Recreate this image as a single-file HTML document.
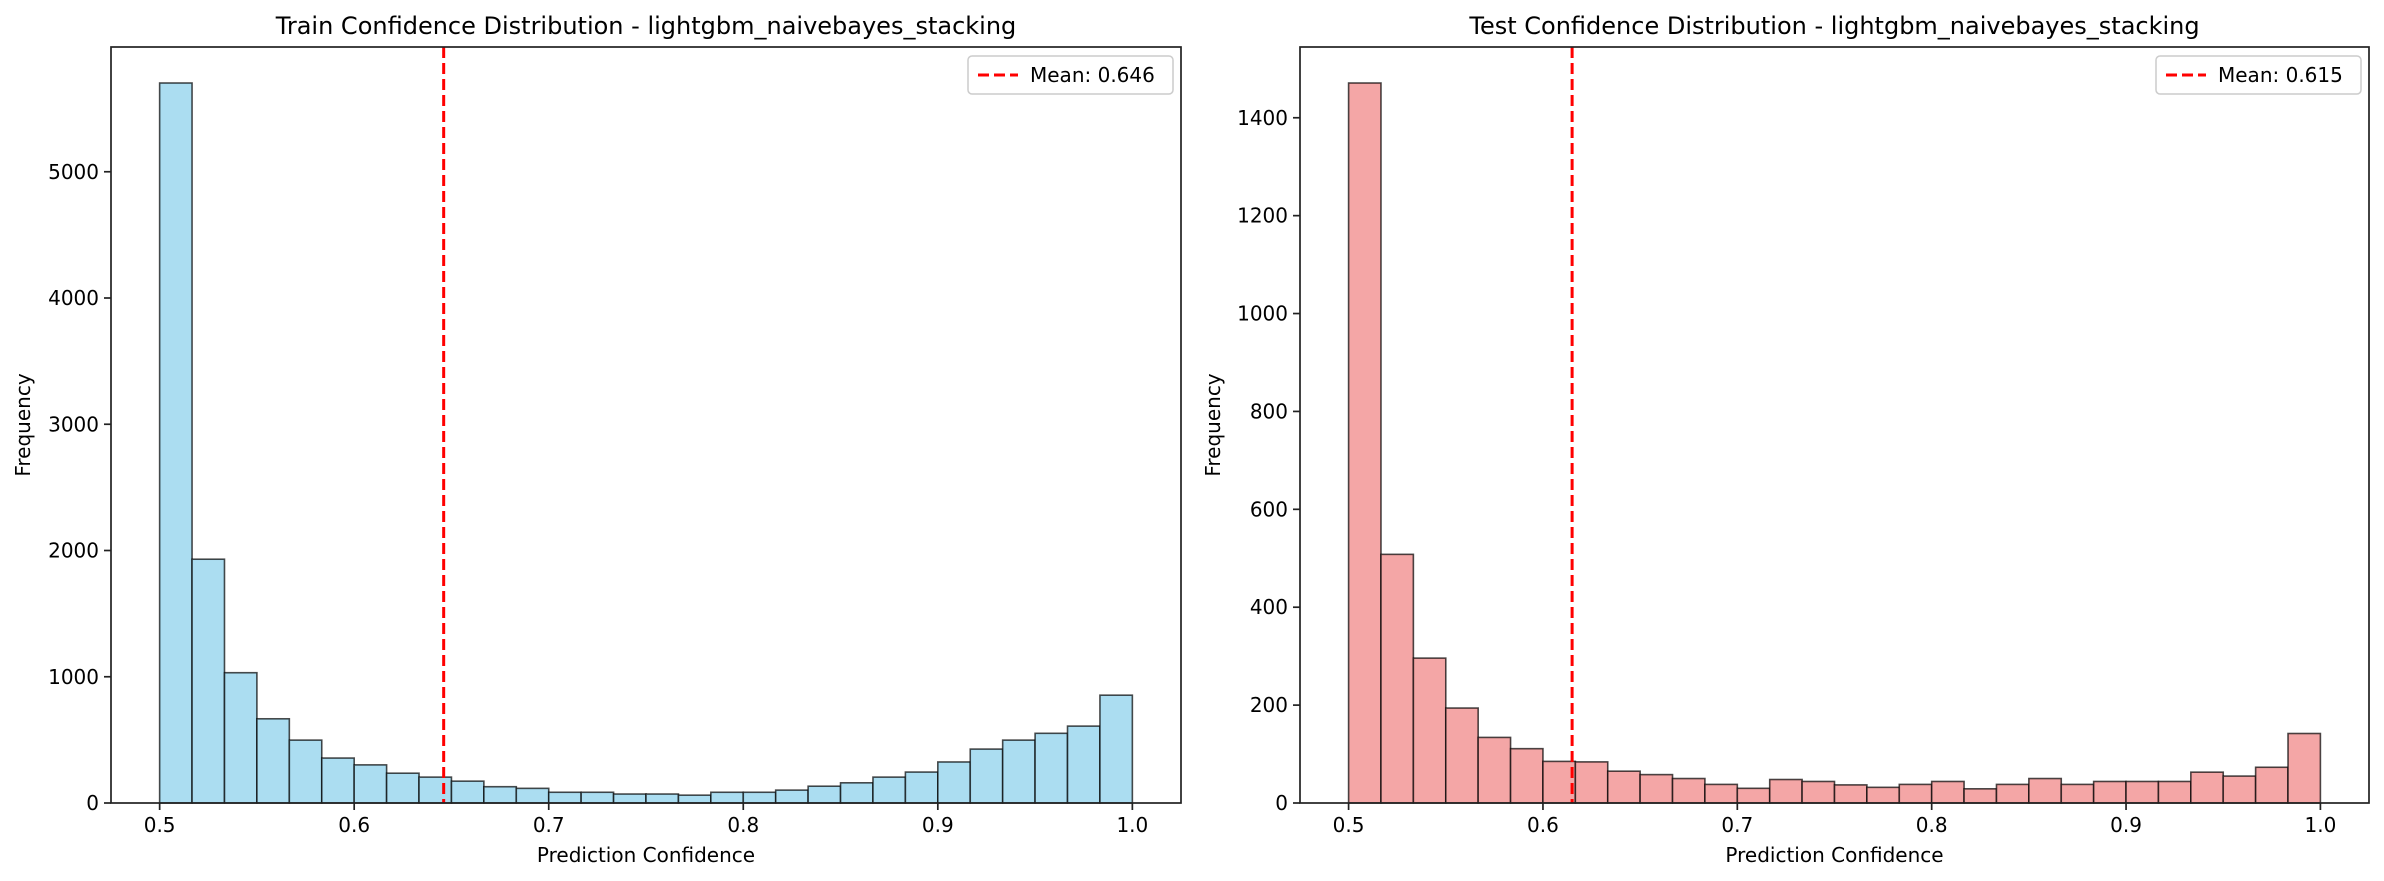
<!DOCTYPE html>
<html><head><meta charset="utf-8"><style>
html,body{margin:0;padding:0;background:#fff;}
svg{display:block;font-family:"DejaVu Sans","Liberation Sans",sans-serif;}
</style></head><body>
<svg id="fig" width="2384" height="881" viewBox="0 0 2384 881" xmlns="http://www.w3.org/2000/svg"></svg>
<script>
const trainCounts=[5703,1931,1032,667,498,356,302,236,205,173,129,116,85,85,71,71,62,85,85,102,133,160,205,245,325,427,498,552,609,854];
const testCounts=[1471,508,296,194,134,111,85,84,65,58,50,38,30,48,44,37,32,38,44,29,38,50,38,44,44,44,63,55,73,142];
const binStart=0.5, binEnd=1.0;
const trainMean=0.646, testMean=0.615;
const xTicks=[0.5,0.6,0.7,0.8,0.9,1.0];
const xTickLabels=["0.5","0.6","0.7","0.8","0.9","1.0"];
const trainYTicks=[0,1000,2000,3000,4000,5000];
const testYTicks=[0,200,400,600,800,1000,1200,1400];

const NS="http://www.w3.org/2000/svg";
const fig=document.getElementById('fig');
function el(tag,attrs,parent){const e=document.createElementNS(NS,tag);for(const k in attrs)e.setAttribute(k,attrs[k]);(parent||fig).appendChild(e);return e;}

function drawPanel(cfg){
  const g=el('g',{});
  
  
  const L=cfg.left,R=cfg.right,T=47,B=803;
  const xmin=0.475,xmax=1.025;
  const ymax=Math.max(...cfg.counts)*1.05;
  const xs=v=>L+(v-xmin)/(xmax-xmin)*(R-L);
  const ys=v=>B-v/ymax*(B-T);
  const n=cfg.counts.length, w=(binEnd-binStart)/n;
  cfg.counts.forEach((c,i)=>{
    const x0=xs(binStart+i*w),x1=xs(binStart+(i+1)*w);
    const r=el('rect',{x:x0,y:ys(c),width:x1-x0,height:B-ys(c),fill:cfg.fill,stroke:'rgba(0,0,0,0.7)','stroke-width':1.6},g);
    
    
  });
  const ml=el('line',{x1:xs(cfg.mean),x2:xs(cfg.mean),y1:T,y2:B,stroke:'#ff0000','stroke-width':3,'stroke-dasharray':'11,5'},g);
  
  
  const ax=el('rect',{x:L,y:T,width:R-L,height:B-T,fill:'none',stroke:'#222','stroke-width':1.7},g);
  
  
  xTicks.forEach((t,i)=>{
    el('line',{x1:xs(t),x2:xs(t),y1:B,y2:B+7,stroke:'#222','stroke-width':1.7},g);
    const tx=el('text',{x:xs(t),y:B+29,'font-size':20,'text-anchor':'middle',fill:'#000'},g);
    tx.textContent=xTickLabels[i];
    
    
  });
  cfg.yTicks.forEach(t=>{
    el('line',{x1:L-7,x2:L,y1:ys(t),y2:ys(t),stroke:'#222','stroke-width':1.7},g);
    const tx=el('text',{x:L-12,y:ys(t)+7,'font-size':20,'text-anchor':'end',fill:'#000'},g);
    tx.textContent=String(t);
    
    
  });
  const title=el('text',{x:(L+R)/2,y:34,'font-size':24,'text-anchor':'middle',fill:'#000'},g);
  title.textContent=cfg.title;
  
  
  const xl=el('text',{x:(L+R)/2,y:862,'font-size':20,'text-anchor':'middle',fill:'#000'},g);
  xl.textContent='Prediction Confidence';
  
  
  const yx=cfg.ylabelX;
  const yl=el('text',{x:yx,y:(T+B)/2,'font-size':20,'text-anchor':'middle',fill:'#000',transform:`rotate(-90 ${yx} ${(T+B)/2})`},g);
  yl.textContent='Frequency';
  
  
  const lg=el('g',{},g);
  
  
  const lw=205,lx=R-8-lw,ly=56;
  el('rect',{x:lx,y:ly,width:lw,height:38,rx:4,fill:'#fff','fill-opacity':0.8,stroke:'#ccc','stroke-width':1.5},lg);
  el('line',{x1:lx+10,x2:lx+50,y1:ly+19,y2:ly+19,stroke:'#ff0000','stroke-width':3,'stroke-dasharray':'11,5'},lg);
  const lt=el('text',{x:lx+62,y:ly+26,'font-size':20,fill:'#000'},lg);
  lt.textContent='Mean: '+cfg.mean.toFixed(3);
  
  
}
drawPanel({name:'train-histogram',left:111,right:1181,counts:trainCounts,mean:trainMean,yTicks:trainYTicks,fill:'rgb(171,221,241)',title:'Train Confidence Distribution - lightgbm_naivebayes_stacking',ylabelX:30});
drawPanel({name:'test-histogram',left:1300,right:2369,counts:testCounts,mean:testMean,yTicks:testYTicks,fill:'rgb(244,166,166)',title:'Test Confidence Distribution - lightgbm_naivebayes_stacking',ylabelX:1220});
</script>
</body></html>
